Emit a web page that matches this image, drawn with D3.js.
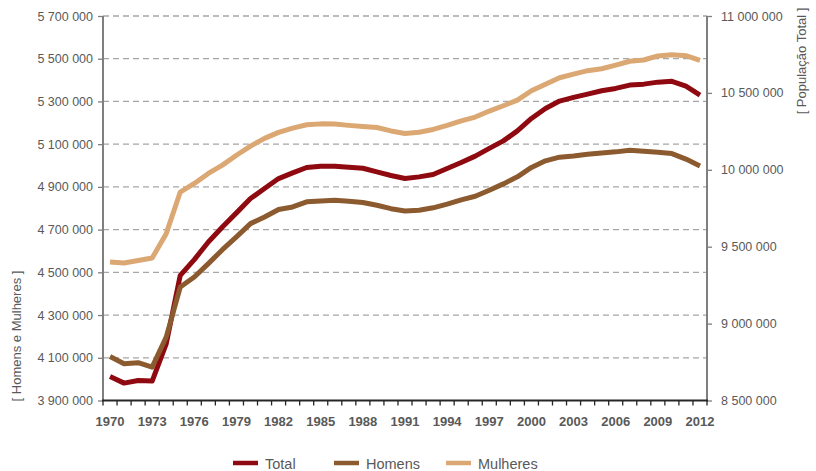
<!DOCTYPE html>
<html><head><meta charset="utf-8">
<script src="https://cdn.jsdelivr.net/npm/d3@7"></script>
<style>body{margin:0;background:#fff}svg{display:block}text{font-family:"Liberation Sans",Arial,sans-serif}</style>
</head><body><svg id="c" width="816" height="471"></svg>
<script>
const years = d3.range(1970, 2013);
const total = [8656000,8613000,8630000,8626000,8869000,9314000,9416000,9531000,9628000,9720000,9813000,9878000,9943000,9980000,10015000,10023000,10023000,10017000,10010000,9986000,9963000,9943000,9954000,9969000,10008000,10047000,10089000,10139000,10188000,10253000,10334000,10399000,10447000,10471000,10492000,10514000,10529000,10551000,10557000,10570000,10575000,10544000,10486000];
const homens = [4106000,4072000,4077000,4056000,4197000,4431000,4478000,4541000,4606000,4666000,4728000,4759000,4794000,4806000,4830000,4834000,4837000,4833000,4827000,4814000,4798000,4787000,4791000,4802000,4819000,4839000,4856000,4884000,4914000,4947000,4991000,5022000,5039000,5045000,5053000,5059000,5064000,5072000,5067000,5062000,5056000,5030000,4998000];
const mulheres = [4548000,4544000,4555000,4567000,4681000,4876000,4916000,4963000,5002000,5048000,5091000,5127000,5155000,5175000,5191000,5195000,5194000,5188000,5183000,5178000,5162000,5150000,5156000,5169000,5188000,5209000,5227000,5255000,5280000,5306000,5350000,5381000,5411000,5428000,5444000,5453000,5470000,5488000,5494000,5513000,5519000,5514000,5492000];
const leftTicks = [3900000,4100000,4300000,4500000,4700000,4900000,5100000,5300000,5500000,5700000];
const rightTicks = [8500000,9000000,9500000,10000000,10500000,11000000];
const xLabels = [1970,1973,1976,1979,1982,1985,1988,1991,1994,1997,2000,2003,2006,2009,2012];
const seriesNames = ["Total","Homens","Mulheres"];
const colors = {"Total":"#8f0a10","Homens":"#8c5a2f","Mulheres":"#dba874"};

const svg = d3.select("#c");
const L = 103, R = 707, T = 16, B = 400.5;
const fmt = v => d3.format(",")(v).replace(/,/g, " ");

const x = d3.scaleBand().domain(years).range([L, R]).padding(0);
const xc = y => x(y) + x.bandwidth()/2;
const yL = d3.scaleLinear().domain([3900000, 5700000]).range([B, T]);
const yR = d3.scaleLinear().domain([8500000, 11000000]).range([B, T]);

// gridlines
svg.append("g").selectAll("line").data(leftTicks.slice(1)).join("line")
  .attr("x1", L).attr("x2", R).attr("y1", d => yL(d)).attr("y2", d => yL(d))
  .attr("stroke", "#a6a6a6").attr("stroke-width", 1.3).attr("stroke-dasharray", "6,4");

// lines
const data = {"Total": total, "Homens": homens, "Mulheres": mulheres};
const scales = {"Total": yR, "Homens": yL, "Mulheres": yL};
seriesNames.forEach(n => {
  const line = d3.line().x((d, i) => xc(years[i])).y(d => scales[n](d));
  svg.append("path").datum(data[n]).attr("d", line).attr("fill", "none")
    .attr("stroke", colors[n]).attr("stroke-width", 5).attr("stroke-linejoin", "round");
});

// left axis
const gl = svg.append("g").attr("transform", `translate(${L},0)`)
  .call(d3.axisLeft(yL).tickValues(leftTicks).tickFormat(fmt).tickSize(5).tickPadding(5));
gl.select(".domain").attr("stroke", "#7f7f7f").attr("stroke-width", 2).attr("d", `M0,${T}V${B}`);
gl.selectAll(".tick line").attr("stroke", "#7f7f7f").attr("stroke-width", 1.3);
gl.selectAll("text").attr("fill", "#595959").style("font-size", "12.5px");

// right axis
const gr = svg.append("g").attr("transform", `translate(${R},0)`)
  .call(d3.axisRight(yR).tickValues(rightTicks).tickFormat(fmt).tickSize(5).tickPadding(9));
gr.select(".domain").attr("stroke", "#7f7f7f").attr("stroke-width", 2).attr("d", `M0,${T}V${B}`);
gr.selectAll(".tick line").attr("stroke", "#7f7f7f").attr("stroke-width", 1.3);
gr.selectAll("text").attr("fill", "#595959").style("font-size", "12.5px");

// x axis
const gx = svg.append("g").attr("transform", `translate(0,${B})`);
gx.append("line").attr("x1", L - 1).attr("x2", R + 1).attr("stroke", "#262626").attr("stroke-width", 2);
const boundaries = years.map(y => x(y)).concat([R]);
gx.selectAll("line.tk").data(boundaries).join("line").attr("class", "tk")
  .attr("x1", d => d).attr("x2", d => d).attr("y1", 0).attr("y2", 5)
  .attr("stroke", "#262626").attr("stroke-width", 1.3);
gx.selectAll("text").data(xLabels).join("text")
  .attr("x", d => xc(d)).attr("y", 25).attr("text-anchor", "middle")
  .attr("fill", "#595959").style("font-size", "13px").style("font-weight", "bold").text(d => d);

// axis titles
svg.append("text").attr("transform", "translate(21,336) rotate(-90)").attr("text-anchor", "middle")
  .attr("fill", "#595959").style("font-size", "13px").text("[ Homens e Mulheres ]");
svg.append("text").attr("transform", "translate(806,61) rotate(-90)").attr("text-anchor", "middle")
  .attr("fill", "#595959").style("font-size", "13px").text("[ População Total ]");

// legend
const legX = [233, 334, 446];
seriesNames.forEach((n, i) => {
  svg.append("line").attr("x1", legX[i]).attr("x2", legX[i] + 25).attr("y1", 463).attr("y2", 463)
    .attr("stroke", colors[n]).attr("stroke-width", 4.5);
  svg.append("text").attr("x", legX[i] + 32).attr("y", 468.5).attr("fill", "#595959")
    .style("font-size", "14.5px").text(n);
});
</script></body></html>
